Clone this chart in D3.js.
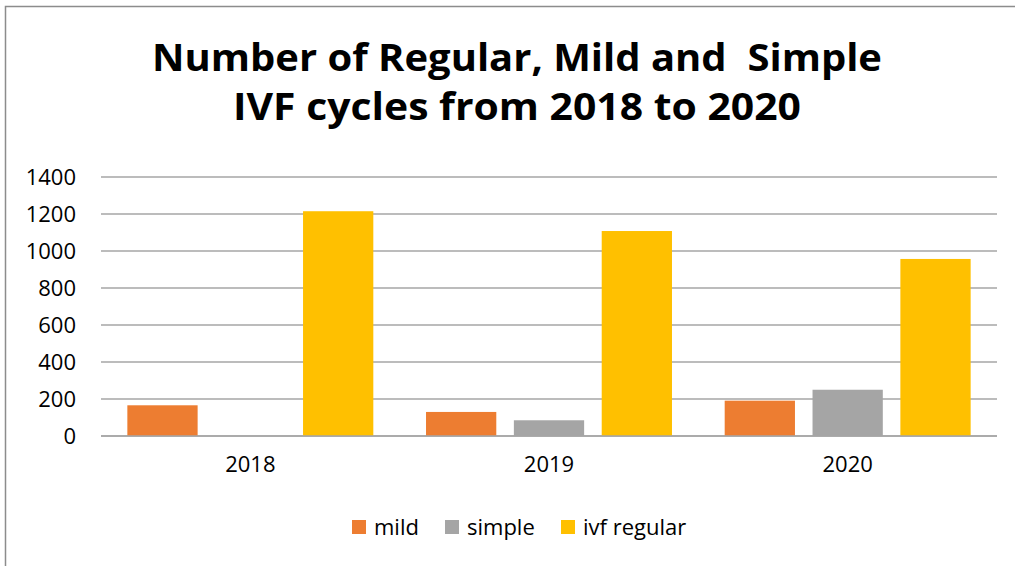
<!DOCTYPE html>
<html>
<head>
<meta charset="utf-8">
<script src="https://cdn.jsdelivr.net/npm/d3@7"></script>
<style>
  body { margin: 0; background: #fff; }
  svg { display: block; font-family: "Open Sans", sans-serif; }
</style>
</head>
<body>
<div id="chart"></div>
<script>
// data
const years = ["2018", "2019", "2020"];
const seriesNames = ["mild", "simple", "ivf regular"];
const mild = [166, 130, 191];
const simple = [0, 85, 250];
const ivfRegular = [1215, 1108, 957];
const yTicks = [0, 200, 400, 600, 800, 1000, 1200, 1400];
const titleLines = ["Number of Regular, Mild and  Simple", "IVF cycles from 2018 to 2020"];

const colors = { "mild": "#ED7D31", "simple": "#A5A5A5", "ivf regular": "#FFC000" };
const values = { "mild": mild, "simple": simple, "ivf regular": ivfRegular };

const width = 1015, height = 566;
const margin = { left: 101, right: 18, top: 177, bottom: 130 };

const svg = d3.select("#chart").append("svg")
    .attr("width", width)
    .attr("height", height);

svg.append("rect")
    .attr("width", width).attr("height", height)
    .attr("fill", "#fff");

// outer chart frame (runs off right / bottom edge)
svg.append("rect")
    .attr("x", 5.5).attr("y", 6.5)
    .attr("width", width + 20).attr("height", height + 20)
    .attr("fill", "none")
    .attr("stroke", "#8c8c8c")
    .attr("stroke-width", 1.5);

// title
const titleWidths = [730, 568];
svg.append("g").selectAll("text")
    .data(titleLines)
    .join("text")
    .attr("x", 517)
    .attr("y", (d, i) => 71 + i * 49)
    .attr("text-anchor", "middle")
    .attr("font-weight", "bold")
    .attr("font-size", 37)
    .attr("fill", "#000")
    .attr("textLength", (d, i) => titleWidths[i])
    .attr("lengthAdjust", "spacingAndGlyphs")
    .style("white-space", "pre")
    .text(d => d);

const x0 = d3.scaleBand()
    .domain(years)
    .range([margin.left, width - margin.right]);

const x1 = d3.scaleBand()
    .domain(seriesNames)
    .range([0, x0.bandwidth()])
    .paddingInner(0.2)
    .paddingOuter(0.3);

const y = d3.scaleLinear()
    .domain([0, 1400])
    .range([height - margin.bottom, margin.top]);

// gridlines
svg.append("g")
    .selectAll("line")
    .data(yTicks)
    .join("line")
    .attr("x1", margin.left)
    .attr("x2", width - margin.right)
    .attr("y1", d => y(d))
    .attr("y2", d => y(d))
    .attr("stroke", "#a6a6a6")
    .attr("stroke-width", 1.5);

// y axis labels
const yAxis = d3.axisLeft(y).tickValues(yTicks).tickFormat(d3.format("d")).tickSize(0).tickPadding(25);
svg.append("g")
    .attr("transform", `translate(${margin.left},0)`)
    .call(yAxis)
    .call(g => g.select(".domain").remove())
    .call(g => g.selectAll("text")
        .attr("font-size", 22)
        .attr("font-family", "Open Sans, sans-serif")
        .attr("fill", "#000"));

// bars
const groups = svg.append("g")
    .selectAll("g")
    .data(years)
    .join("g")
    .attr("transform", d => `translate(${x0(d)},0)`);

groups.selectAll("rect")
    .data((d, i) => seriesNames.map(s => ({ key: s, value: values[s][i] })))
    .join("rect")
    .attr("x", d => x1(d.key))
    .attr("width", x1.bandwidth())
    .attr("y", d => y(d.value))
    .attr("height", d => y(0) - y(d.value))
    .attr("fill", d => colors[d.key]);

// baseline on top of the bars
svg.append("line")
    .attr("x1", margin.left)
    .attr("x2", width - margin.right)
    .attr("y1", y(0)).attr("y2", y(0))
    .attr("stroke", "#a6a6a6")
    .attr("stroke-width", 1.5);

// x axis labels
const xAxis = d3.axisBottom(x0).tickSize(0).tickPadding(20);
svg.append("g")
    .attr("transform", `translate(0,${y(0)})`)
    .call(xAxis)
    .call(g => g.select(".domain").remove())
    .call(g => g.selectAll("text")
        .attr("font-size", 22)
        .attr("font-family", "Open Sans, sans-serif")
        .attr("fill", "#000"));

// legend
const legendX = [352, 445, 561];
const legend = svg.append("g")
    .selectAll("g")
    .data(seriesNames)
    .join("g")
    .attr("transform", (d, i) => `translate(${legendX[i]},520)`);

legend.append("rect")
    .attr("width", 14).attr("height", 14)
    .attr("fill", d => colors[d]);

legend.append("text")
    .attr("x", 22)
    .attr("y", 7)
    .attr("dy", "0.36em")
    .attr("font-size", 22)
    .attr("fill", "#000")
    .text(d => d);
</script>
</body>
</html>
